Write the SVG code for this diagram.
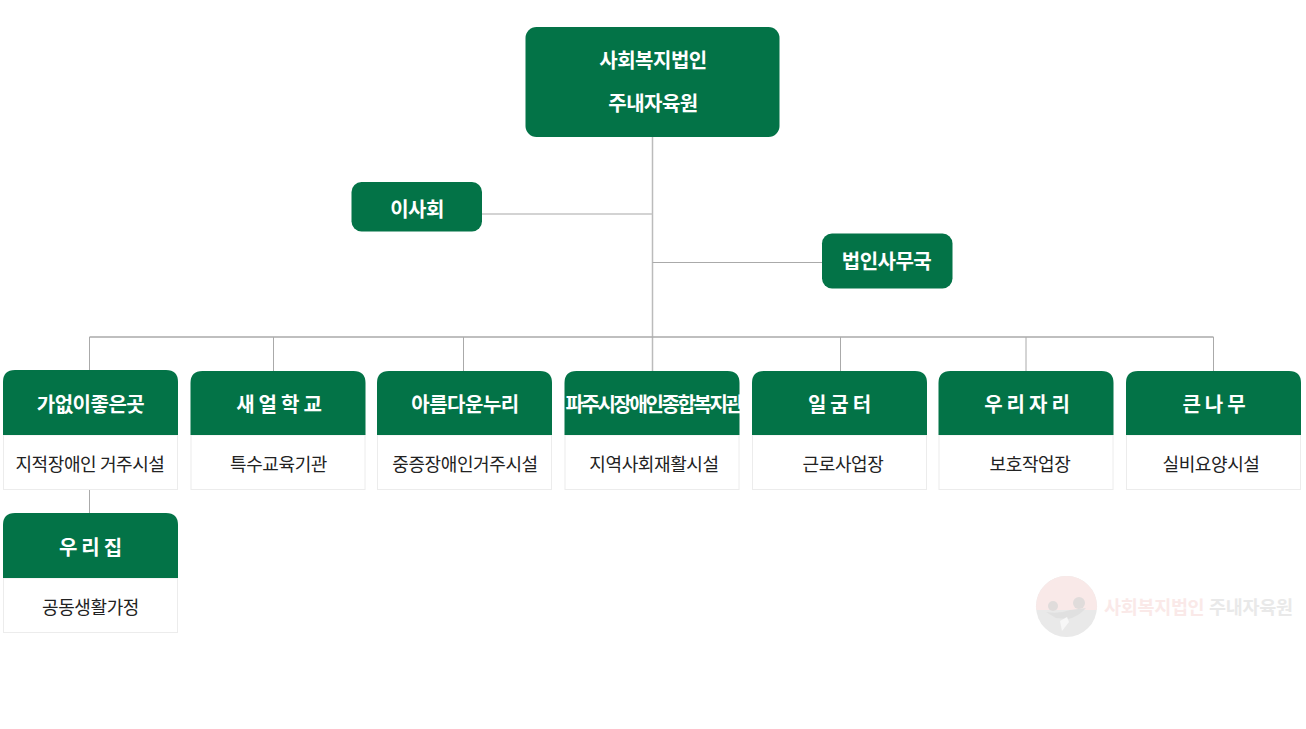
<svg xmlns="http://www.w3.org/2000/svg" width="1306" height="729" viewBox="0 0 1306 729">
<style>
text{font-family:"Noto Sans CJK KR","Noto Sans",sans-serif;text-anchor:middle}
.g{fill:#037347}
.c{fill:#fff;stroke:#ececec;stroke-width:1}
.t{fill:#fff;font-size:20px;font-weight:700;letter-spacing:-.5px}
.h{fill:#fff;font-size:20px;font-weight:700;letter-spacing:-.5px}
.p{letter-spacing:4px}
.s{fill:#222;font-size:18px;letter-spacing:-.4px}
.l{fill:none;stroke:#aaa;stroke-width:1}
.m{fill:none;stroke:#aaa;stroke-width:1.500}
.w{font-size:18.500px;font-weight:700;text-anchor:start;letter-spacing:-.3px}
</style>
<defs>
<path id="head" d="M0 64V12Q0 0 12 0H163Q175 0 175 12V64Z"/>
<path id="head1" d="M0 65V12Q0 0 12 0H163Q175 0 175 12V65Z"/>
</defs>
<rect width="1306" height="729" fill="#fff"/>
<g id="connectors">
<path class="m" style="stroke:#bbb" d="M652.500 137V372"/>
<path class="m" style="stroke:#c4c4c4" d="M482 214H652.500"/>
<path class="l" d="M652.500 262.500H822"/>
<path class="m" d="M89.500 337H1213.500"/>
<path class="l" d="M89.500 370V337M1213.500 337V371M273.500 337V371M463.500 337V371M840.500 337V371M1026 337V371"/>
<path class="l" d="M89.500 490V513"/>
</g>
<g id="root"><rect class="g" x="525.500" y="27" width="254" height="110" rx="11"/>
<text class="t" x="653" y="68">사회복지법인</text><text class="t" x="653" y="111">주내자육원</text></g>
<g id="board"><rect class="g" x="351.500" y="182" width="130.500" height="49.500" rx="10"/><text class="t" x="417" y="217">이사회</text></g>
<g id="office"><rect class="g" x="822" y="233.500" width="130.500" height="55" rx="10"/><text class="t" x="886.500" y="269">법인사무국</text></g>

<g id="n1"><rect class="c" x="3.500" y="435" width="174" height="54.500"/><use href="#head1" class="g" x="3" y="370"/>
<text class="h" x="90.500" y="412">가없이좋은곳</text><text class="s" x="90" y="471">지적장애인 거주시설</text></g>
<g id="n2"><rect class="c" x="191" y="435" width="174" height="54.500"/><use href="#head" class="g" x="190.500" y="371"/>
<text class="h p" x="281" y="412">새얼학교</text><text class="s" x="278.500" y="471">특수교육기관</text></g>
<g id="n3"><rect class="c" x="377.500" y="435" width="174" height="54.500"/><use href="#head" class="g" x="377" y="371"/>
<text class="h" x="465" y="412">아름다운누리</text><text class="s" x="465" y="471">중증장애인거주시설</text></g>
<g id="n4"><rect class="c" x="565" y="435" width="174" height="54.500"/><use href="#head" class="g" x="564.500" y="371"/>
<text class="h" x="653.500" y="412" style="letter-spacing:-2.400px">파주시장애인종합복지관</text><text class="s" x="654" y="471">지역사회재활시설</text></g>
<g id="n5"><rect class="c" x="752.500" y="435" width="174" height="54.500"/><use href="#head" class="g" x="752" y="371"/>
<text class="h p" x="841.500" y="412">일굼터</text><text class="s" x="843" y="471">근로사업장</text></g>
<g id="n6"><rect class="c" x="939" y="435" width="174" height="54.500"/><use href="#head" class="g" x="938.500" y="371"/>
<text class="h p" x="1029" y="412">우리자리</text><text class="s" x="1030" y="471">보호작업장</text></g>
<g id="n7"><rect class="c" x="1126.500" y="435" width="174" height="54.500"/><use href="#head" class="g" x="1126" y="371"/>
<text class="h p" x="1216" y="412">큰나무</text><text class="s" x="1211" y="471">실비요양시설</text></g>
<g id="n8"><rect class="c" x="3.500" y="578" width="174" height="54.500"/><use href="#head1" class="g" x="3" y="513"/>
<text class="h p" x="92.500" y="555">우리집</text><text class="s" x="90.500" y="614">공동생활가정</text></g>

<g id="watermark">
<circle cx="1066.500" cy="606.500" r="30.500" fill="#e9e9e9"/>
<path d="M1036 606.500A30.500 30.500 0 0 1 1097 606.500Q1097 608 1096.500 610H1036.500Q1036 608 1036 606.500Z" fill="#f9e9e8"/>
<circle cx="1053" cy="606" r="5" fill="#e0dcdb"/><circle cx="1079" cy="603" r="6" fill="#e0dcdb"/>
<path d="M1046 612Q1060 614 1070 610L1086 608Q1078 617 1068 619L1056 618Z" fill="#e0e0e0"/>
<path d="M1060 621L1067 617L1069 622L1062 631Z" fill="#f7f7f7"/>
<text class="w" x="1104" y="613.500" fill="#fae9e8">사회복지법인</text>
<text class="w" x="1209" y="613.500" fill="#e9e9e9">주내자육원</text>
</g>
</svg>
